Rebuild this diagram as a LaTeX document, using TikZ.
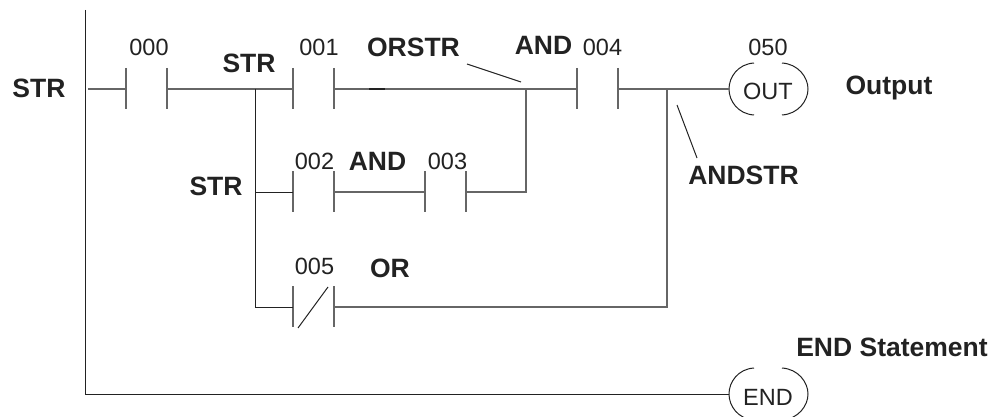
\documentclass[tikz,border=0pt]{standalone}
\usepackage{fontspec}
\setmainfont{Liberation Sans}
\definecolor{wire}{HTML}{666666}
\definecolor{ink}{HTML}{222222}
\tikzset{
  x=1pt,y=-1pt,
  wireline/.style={draw=wire,line width=1.4pt},
  thinline/.style={draw=ink,line width=1pt},
  plate/.style={draw=wire,line width=1.3pt},
  coilarc/.style={draw=ink,line width=1pt},
  boldlabel/.style={anchor=base,inner sep=0pt,text=ink,font=\fontsize{26.5}{27}\selectfont\bfseries},
  numlabel/.style={anchor=base,inner sep=0pt,text=ink,font=\fontsize{23.5}{24}\selectfont},
}
\newcommand{\contact}[3]{% name, left x, rung y
  \coordinate (#1l) at (#2,#3);
  \coordinate (#1r) at (#2+41,#3);
  \draw[plate] (#2,#3-21) -- (#2,#3+20);
  \draw[plate] (#2+41,#3-21) -- (#2+41,#3+20);
}
\newcommand{\coil}[2]{% name, center y
  \coordinate (#1l) at (729,#2);
  \draw[coilarc] (754,#2-26) .. controls (738,#2-25) and (729,#2-12) .. (729,#2)
     .. controls (729,#2+12) and (738,#2+25) .. (754,#2+26);
  \draw[coilarc] (782,#2-26) .. controls (798,#2-25) and (808,#2-12) .. (808,#2)
     .. controls (808,#2+12) and (798,#2+25) .. (782,#2+26);
}
\begin{document}
\begin{tikzpicture}
\useasboundingbox (0,0) rectangle (1000,417);
% contacts
\contact{c000}{126}{89}
\contact{c001}{293}{89}
\contact{c002}{293}{192}
\contact{c003}{425}{192}
\contact{c004}{577}{89}
\contact{c005}{293}{307}
\coil{out}{89}
\coil{end}{394}
% rail
\coordinate (railtop) at (85,10);
\coordinate (railbot) at (85,394);
\coordinate (railout) at (88,89);
\coordinate (j1) at (255,89);
\coordinate (j1b) at (255,307);
\coordinate (j1m) at (255,192);
\coordinate (j2) at (526,89);
\coordinate (j2b) at (526,192);
\coordinate (j3) at (667,89);
\coordinate (j3b) at (667,307);
\draw[thinline] (railtop) -- (railbot) -- (endl);
\draw[wireline] (railout) -- (c000l);
\draw[wireline] (c000r) -- (j1);
\draw[wireline] (j1) -- (c001l);
\draw[wireline] (c001r) -- (j2);
\draw[wireline] (j2) -- (c004l);
\draw[wireline] (c004r) -- (j3) -- (outl);
\draw[thinline] (j1) -- (j1b) -- (c005l);
\draw[thinline] (j1m) -- (c002l);
\draw[wireline] (c002r) -- (c003l);
\draw[wireline] (c003r) -- (j2b) -- (j2);
\draw[wireline] (c005r) -- (j3b) -- (j3);
% dark patch on the first rung
\coordinate (p1) at (369,89);
\coordinate (p2) at (385,89);
\draw[ink,line width=1.4pt] (p1) -- (p2);
% slash of normally closed contact
\coordinate (s1) at (298,328);
\coordinate (s2) at (328,287);
\draw[thinline] (s1) -- (s2);
% leaders
\coordinate (la) at (467,64);
\coordinate (lb) at (521,82);
\coordinate (lc) at (677,105);
\coordinate (ld) at (697,158);
\draw[thinline] (la) -- (lb);
\draw[thinline] (lc) -- (ld);
% labels
\node[boldlabel] (tstr1) at (39,98) {STR};
\node[boldlabel] (tstr2) at (249,73) {STR};
\node[boldlabel] (tstr3) at (216,195) {STR};
\node[boldlabel] (torstr) at (413.5,57) {ORSTR};
\node[boldlabel] (tand1) at (543.5,55) {AND};
\node[boldlabel] (tand2) at (377.5,170) {AND};
\node[boldlabel] (tor) at (390,277) {OR};
\node[boldlabel] (tandstr) at (743.5,184) {ANDSTR};
\node[boldlabel] (toutput) at (889,95) {Output};
\node[boldlabel] (tendst) at (892,356) {END Statement};
\node[numlabel] (n000) at (149,56) {000};
\node[numlabel] (n001) at (319,56) {001};
\node[numlabel] (n002) at (314.5,169) {002};
\node[numlabel] (n003) at (447.5,169) {003};
\node[numlabel] (n004) at (602.5,56) {004};
\node[numlabel] (n005) at (314.5,274) {005};
\node[numlabel] (n050) at (768,56) {050};
\node[numlabel] (tout) at (768,100) {OUT};
\node[numlabel] (tend) at (768,405) {END};
\end{tikzpicture}
\end{document}
